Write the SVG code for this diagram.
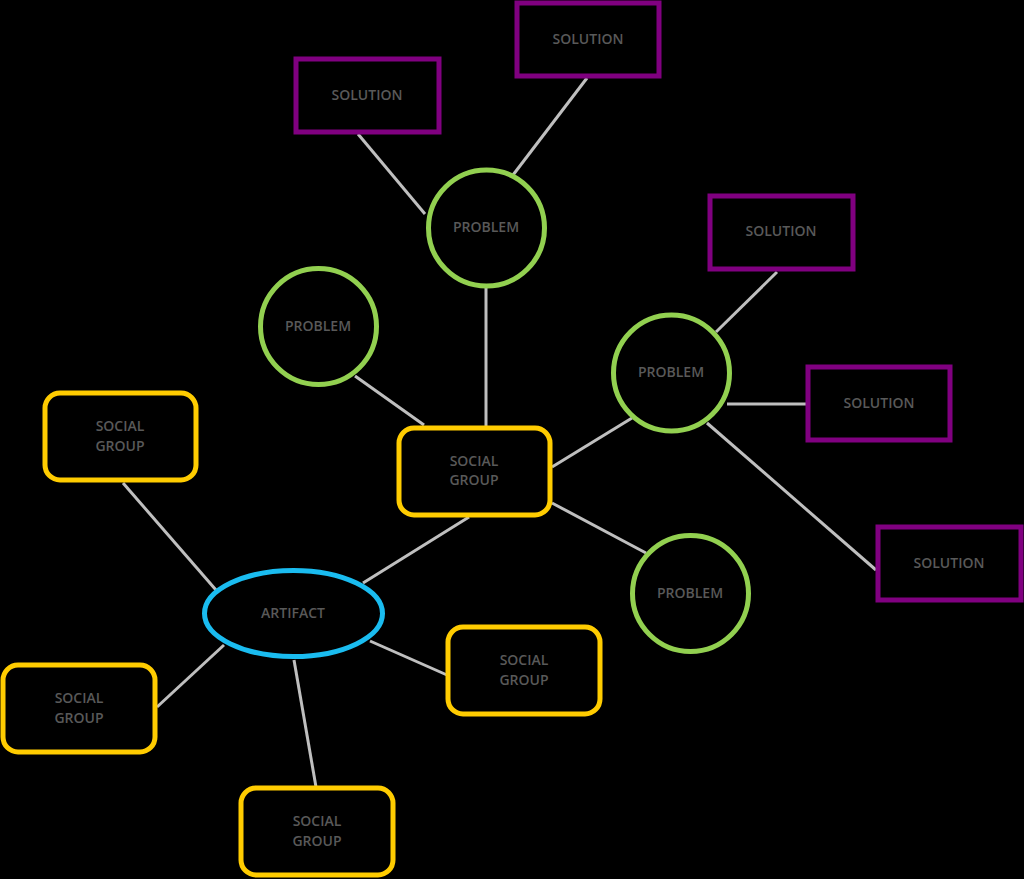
<svg xmlns="http://www.w3.org/2000/svg" width="1024" height="879" viewBox="0 0 1024 879">
<style>
.bg{fill:#000}
.ln{stroke:#BFBFBF;stroke-width:3;fill:none}
.sg{fill:#000;stroke:#FFCC00;stroke-width:5}
.pr{fill:#000;stroke:#92D050;stroke-width:5}
.so{fill:#000;stroke:#800080;stroke-width:5}
.ar{fill:#000;stroke:#1ABCF0;stroke-width:5}
text{font-family:"Open Sans","Liberation Sans",sans-serif;font-weight:600;font-size:14px;fill:#595959;text-anchor:middle}
</style>
<rect class="bg" x="0" y="0" width="1024" height="879"/>
<g id="connectors">
<line class="ln" x1="358" y1="134" x2="425" y2="214"/>
<line class="ln" x1="587" y1="78" x2="513" y2="175"/>
<line class="ln" x1="486" y1="287" x2="486" y2="427"/>
<line class="ln" x1="355" y1="376" x2="424" y2="425"/>
<line class="ln" x1="552" y1="467" x2="632" y2="418"/>
<line class="ln" x1="552" y1="503" x2="646" y2="553"/>
<line class="ln" x1="469" y1="517" x2="363" y2="583"/>
<line class="ln" x1="123" y1="483" x2="216" y2="590"/>
<line class="ln" x1="224" y1="645" x2="157" y2="707"/>
<line class="ln" x1="294" y1="660" x2="316" y2="787"/>
<line class="ln" x1="370" y1="641" x2="447" y2="675"/>
<line class="ln" x1="777" y1="272" x2="716" y2="332"/>
<line class="ln" x1="727" y1="404" x2="806" y2="404"/>
<line class="ln" x1="707" y1="423" x2="876" y2="570"/>
</g>
<g id="artifact"><ellipse class="ar" cx="293.5" cy="613.5" rx="89" ry="43"/><text x="293" y="618">ARTIFACT</text></g>
<g id="sg-center"><rect class="sg" x="399" y="428" width="151" height="87" rx="15"/><text x="474" y="466">SOCIAL</text><text x="474" y="485">GROUP</text></g>
<g id="sg-topleft"><rect class="sg" x="45" y="393" width="151" height="87" rx="15"/><text x="120" y="431">SOCIAL</text><text x="120" y="451">GROUP</text></g>
<g id="sg-left"><rect class="sg" x="3" y="665" width="152" height="87" rx="15"/><text x="79" y="703">SOCIAL</text><text x="79" y="723">GROUP</text></g>
<g id="sg-bottom"><rect class="sg" x="241" y="788" width="152" height="87" rx="15"/><text x="317" y="826">SOCIAL</text><text x="317" y="846">GROUP</text></g>
<g id="sg-right"><rect class="sg" x="448" y="627" width="152" height="87" rx="15"/><text x="524" y="665">SOCIAL</text><text x="524" y="685">GROUP</text></g>
<g id="problem-top"><circle class="pr" cx="486.5" cy="228" r="58"/><text x="486" y="232">PROBLEM</text></g>
<g id="problem-left"><circle class="pr" cx="318.5" cy="326.5" r="58"/><text x="318" y="331">PROBLEM</text></g>
<g id="problem-right"><circle class="pr" cx="671.5" cy="373" r="58"/><text x="671" y="377">PROBLEM</text></g>
<g id="problem-bottom"><circle class="pr" cx="690.5" cy="593.5" r="58"/><text x="690" y="598">PROBLEM</text></g>
<g id="solution-1"><rect class="so" x="296" y="59" width="143" height="73"/><text x="367" y="100">SOLUTION</text></g>
<g id="solution-2"><rect class="so" x="517" y="3" width="142" height="73"/><text x="588" y="44">SOLUTION</text></g>
<g id="solution-3"><rect class="so" x="710" y="196" width="143" height="73"/><text x="781" y="236">SOLUTION</text></g>
<g id="solution-4"><rect class="so" x="808" y="367" width="142" height="73"/><text x="879" y="408">SOLUTION</text></g>
<g id="solution-5"><rect class="so" x="878" y="527" width="143" height="73"/><text x="949" y="568">SOLUTION</text></g>
</svg>
